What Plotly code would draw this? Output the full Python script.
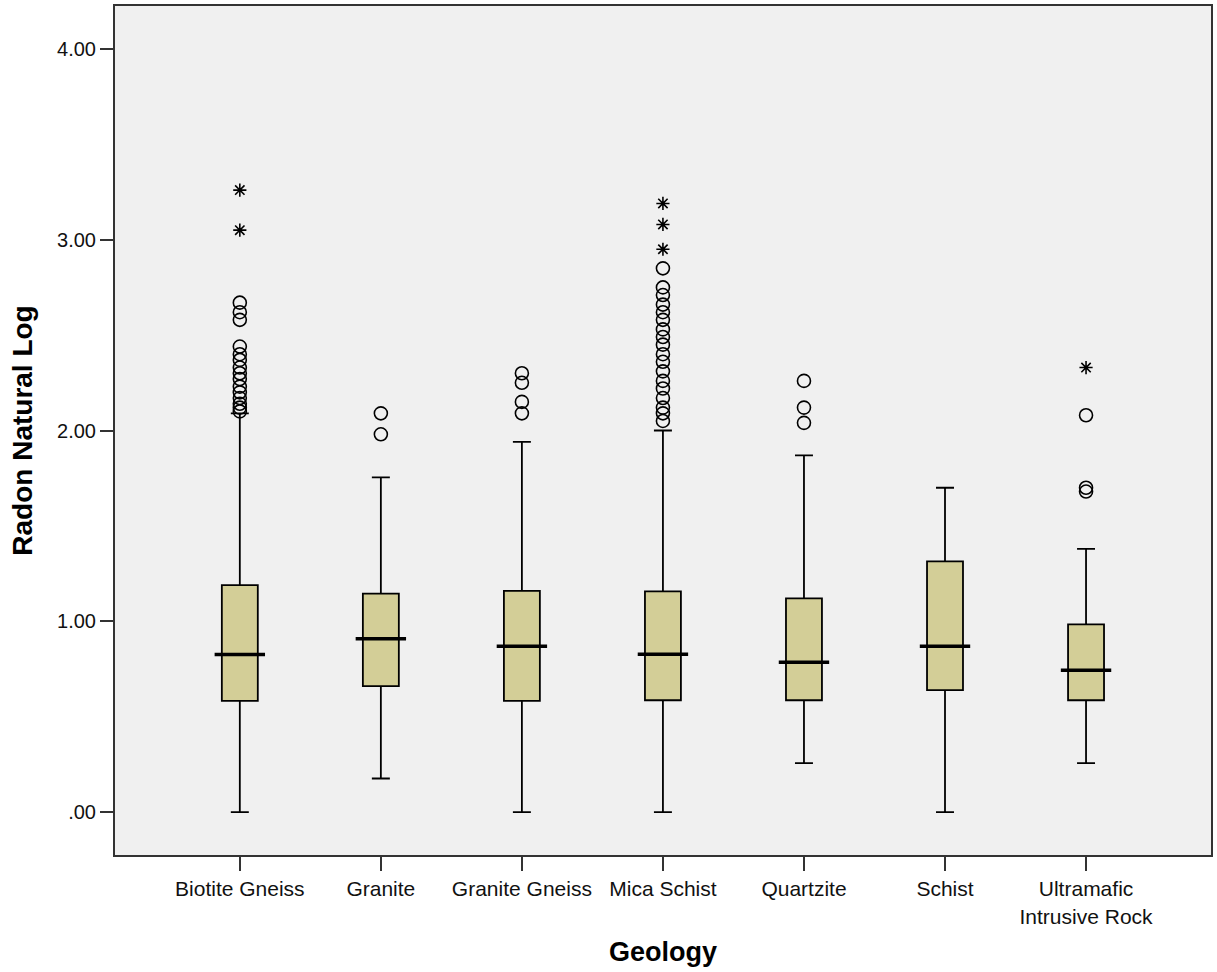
import plotly.graph_objects as go

categories = ["Biotite Gneiss", "Granite", "Granite Gneiss", "Mica Schist",
              "Quartzite", "Schist", "Ultramafic Intrusive Rock"]
tick_labels = ["Biotite Gneiss", "Granite", "Granite Gneiss", "Mica Schist",
               "Quartzite", "Schist", "Ultramafic<br>Intrusive Rock"]

q1 = [0.583, 0.660, 0.583, 0.586, 0.586, 0.639, 0.586]
median = [0.826, 0.909, 0.869, 0.827, 0.785, 0.869, 0.743]
q3 = [1.190, 1.145, 1.159, 1.157, 1.120, 1.314, 0.984]
lower_whisker = [0.0, 0.176, 0.0, 0.0, 0.257, 0.0, 0.257]
upper_whisker = [2.09, 1.754, 1.94, 2.00, 1.87, 1.70, 1.38]

outliers = {
    "Biotite Gneiss": [2.67, 2.62, 2.58, 2.44, 2.40, 2.37, 2.33, 2.30, 2.27,
                       2.23, 2.20, 2.17, 2.14, 2.12, 2.10],
    "Granite": [2.09, 1.98],
    "Granite Gneiss": [2.30, 2.25, 2.15, 2.09],
    "Mica Schist": [2.85, 2.75, 2.71, 2.66, 2.62, 2.58, 2.53, 2.49, 2.45, 2.40,
                    2.36, 2.31, 2.26, 2.22, 2.17, 2.12, 2.09, 2.05],
    "Quartzite": [2.26, 2.12, 2.04],
    "Schist": [],
    "Ultramafic Intrusive Rock": [2.08, 1.70, 1.68],
}
extremes = {
    "Biotite Gneiss": [3.26, 3.05],
    "Mica Schist": [3.19, 3.08, 2.95],
    "Ultramafic Intrusive Rock": [2.33],
}

y_tickvals = [0, 1, 2, 3, 4]
y_ticktext = [".00", "1.00", "2.00", "3.00", "4.00"]

box_fill = "#D3CE97"

fig = go.Figure()
fig.add_trace(go.Box(
    x=categories, q1=q1, median=median, q3=q3,
    lowerfence=lower_whisker, upperfence=upper_whisker,
    fillcolor=box_fill, line=dict(color="black", width=1.8),
    width=0.255, whiskerwidth=0.5, boxpoints=False, showlegend=False,
    hoverinfo="skip",
))
# thick median lines
fig.add_trace(go.Scatter(
    x=categories, y=median, mode="markers",
    marker=dict(symbol="line-ew", size=36, line=dict(color="black", width=3.5)),
    showlegend=False, hoverinfo="skip",
))
ox, oy = [], []
for c in categories:
    for v in outliers.get(c, []):
        ox.append(c); oy.append(v)
fig.add_trace(go.Scatter(
    x=ox, y=oy, mode="markers",
    marker=dict(symbol="circle-open", size=13, color="black", line=dict(width=1.6)),
    showlegend=False,
))
ex, ey = [], []
for c in categories:
    for v in extremes.get(c, []):
        ex.append(c); ey.append(v)
fig.add_trace(go.Scatter(
    x=ex, y=ey, mode="markers",
    marker=dict(symbol="asterisk-open", size=11, color="black", line=dict(width=1.6, color="black")),
    showlegend=False,
))

fig.update_layout(
    width=1217, height=972,
    margin=dict(l=115, r=4, t=5, b=117),
    paper_bgcolor="white", plot_bgcolor="#F0F0F0",
    font=dict(family="Liberation Sans, Arial, sans-serif", color="black", size=20),
)
fig.update_xaxes(
    type="category", categoryorder="array", categoryarray=categories,
    tickvals=categories, ticktext=tick_labels,
    range=[-0.885, 6.886], showgrid=False, zeroline=False,
    showline=True, mirror=True, linecolor="#333333", linewidth=2,
    ticks="outside", ticklen=14, tickwidth=2, tickcolor="#333333",
    tickfont=dict(size=21, color="#111111"),
    title=dict(text="<b>Geology</b>", font=dict(size=27), standoff=16),
)
fig.update_yaxes(
    range=[-0.225, 4.225], tickvals=y_tickvals, ticktext=y_ticktext,
    showgrid=False, zeroline=False,
    showline=True, mirror=True, linecolor="#333333", linewidth=2,
    ticks="outside", ticklen=13, tickwidth=2, tickcolor="#333333",
    tickfont=dict(size=20, color="#111111"),
    title=dict(text="<b>Radon Natural Log</b>", font=dict(size=28), standoff=16),
)

fig.write_html("out.html")
